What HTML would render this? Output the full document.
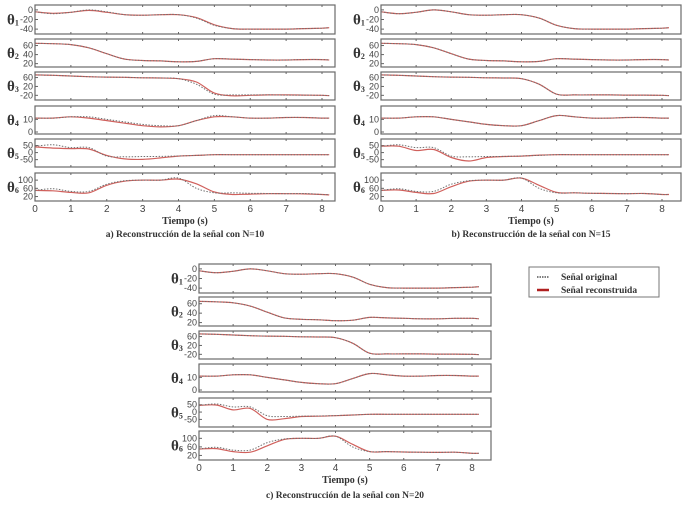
<!DOCTYPE html>
<html><head><meta charset="utf-8"><style>
body{margin:0;background:#fff;width:700px;height:511px;overflow:hidden}
svg{display:block;font-family:"Liberation Sans",sans-serif}
</style></head><body>
<svg id="fig" width="700" height="511" viewBox="0 0 700 511"></svg>
<script>
const times=[0,0.5,1,1.5,2,2.5,3,3.5,4,4.5,5,5.5,6,6.5,7,7.5,8,8.2];
const xTicks=[0,1,2,3,4,5,6,7,8];
const orig1=[-4,-8,-5,0,-4,-10,-11,-10,-10,-17,-32,-39,-40,-40,-40,-39,-38,-37];
const orig2=[65,64,62,55,42,30,27,26,24,25,31,30,29,28,28,29,29,28];
const orig3=[72,70,67,64,62,61,59,58,55,30,-15,-18,-18,-18,-19,-19,-20,-21];
const orig4=[11,11,12,12,10,8,6,5,5,9,13,12,11,11,11.5,11.5,11,11];
const orig5=[45,55,35,35,-25,-30,-28,-27,-24,-20,-15,-15,-15,-15,-15,-15,-15,-15];
const orig6=[50,58,45,45,80,97,100,100,110,60,38,38,36,35,34,35,30,30];
const rec10_1=[-4,-7,-5,-1,-5,-10,-11,-10,-10,-16,-31,-39,-40,-40,-40,-39,-38,-37];
const rec10_3=[72,70,67,64,62,61,59,58,55,40,-10,-22,-20,-18,-18,-19,-20,-21];
const rec10_4=[11,11,12,11,9,7,5,4,5,9,12,12,11,11,11.5,11.5,11,11];
const rec10_5=[40,32,28,25,-20,-45,-48,-38,-25,-20,-15,-15,-15,-15,-15,-15,-15,-15];
const rec10_6=[50,48,40,38,75,95,100,100,105,82,42,30,32,34,34,33,30,28];
const rec15_5=[45,45,15,22,-35,-60,-35,-28,-25,-18,-15,-15,-15,-15,-15,-15,-15,-15];
const rec15_6=[50,52,40,35,68,95,100,100,110,75,40,38,36,35,34,35,30,30];
const rec20_5=[45,48,15,25,-50,-45,-30,-28,-25,-20,-15,-15,-15,-15,-15,-15,-15,-15];
const rec20_6=[50,52,38,35,65,95,100,100,110,72,38,38,36,35,34,35,30,30];
const yRanges=[[-46,6],[17,70],[-32,76],[0,19],[-88,82],[8,125]];
const yTicks=[[0,-20,-40],[20,40,60],[60,20,-20],[10,0],[50,0,-50],[100,60,20]];
const origSet=[orig1,orig2,orig3,orig4,orig5,orig6];
const rec10=[rec10_1,orig2,rec10_3,rec10_4,rec10_5,rec10_6];
const rec15=[orig1,orig2,orig3,orig4,rec15_5,rec15_6];
const rec20=[orig1,orig2,orig3,orig4,rec20_5,rec20_6];
const captions=["a) Reconstrucción de la señal con N=10","b) Reconstrucción de la señal con N=15","c) Reconstrucción de la señal con N=20"];

const NS="http://www.w3.org/2000/svg";
const svg=document.getElementById('fig');
const SERIF='"Liberation Serif",serif';
function mk(tag,attrs,parent,txt){const e=document.createElementNS(NS,tag);for(const k in attrs)e.setAttribute(k,attrs[k]);if(txt!==undefined)e.textContent=txt;(parent||svg).appendChild(e);return e;}
function smooth(pts){let d='M'+pts[0][0].toFixed(1)+' '+pts[0][1].toFixed(1);
 for(let i=0;i<pts.length-1;i++){const p0=pts[i-1]||pts[i],p1=pts[i],p2=pts[i+1],p3=pts[i+2]||p2;
  const c1=[p1[0]+(p2[0]-p0[0])/6,p1[1]+(p2[1]-p0[1])/6],c2=[p2[0]-(p3[0]-p1[0])/6,p2[1]-(p3[1]-p1[1])/6];
  d+=` C${c1[0].toFixed(1)} ${c1[1].toFixed(1)} ${c2[0].toFixed(1)} ${c2[1].toFixed(1)} ${p2[0].toFixed(1)} ${p2[1].toFixed(1)}`;}
 return d;}
function panel(id,x0,x8,right,rowsY,recSet,labelY,caption){
 const g=mk('g',{});
 
 
 const sx=t=>x0+(x8-x0)*t/8;
 const left=x0;
 rowsY.forEach((r,i)=>{
  const [top,bot]=r;const [lo,hi]=yRanges[i];
  const sy=v=>bot-2-(bot-top-4)*(v-lo)/(hi-lo);
  const sg=mk('g',{},g);
  
  
  mk('rect',{x:left,y:top,width:right-left,height:bot-top,fill:'#fff',stroke:'#6a6a6a','stroke-width':1.2},sg);
  xTicks.forEach(t=>{mk('line',{x1:sx(t),x2:sx(t),y1:top,y2:top+2,stroke:'#666'},sg);mk('line',{x1:sx(t),x2:sx(t),y1:bot,y2:bot-2,stroke:'#666'},sg);});
  yTicks[i].forEach(v=>{const yy=sy(v);
   mk('line',{x1:left,x2:left+3,y1:yy,y2:yy,stroke:'#666'},sg);
   const tl=mk('text',{x:left-2,y:yy+3,'text-anchor':'end','font-size':9,fill:'#444'},sg,String(v));
   
   });
  const lab=mk('text',{x:left-28,y:(top+bot)/2+5,'font-size':15,'font-weight':'bold','font-family':SERIF,fill:'#333'},sg);
  
  
  lab.textContent='θ';
  mk('tspan',{'font-size':8,dy:1},lab,String(i+1));
  const rp=mk('path',{d:smooth(times.map((t,k)=>[sx(t),sy(recSet[i][k])])),fill:'none',stroke:'#d0605c','stroke-width':1.2},sg);
  
  
  const op=mk('path',{d:smooth(times.map((t,k)=>[sx(t),sy(origSet[i][k])])),fill:'none',stroke:'#707070','stroke-width':1,'stroke-dasharray':'1.5 1.5'},sg);
  
  
 });
 const lastBot=rowsY[5][1];
 xTicks.forEach(t=>{const tl=mk('text',{x:sx(t),y:lastBot+11,'text-anchor':'middle','font-size':10,fill:'#444'},g,String(t));
  
  });
 const xt=mk('text',{x:(left+right)/2,y:lastBot+23,'text-anchor':'middle','font-size':10,'font-weight':'bold','font-family':SERIF,fill:'#333'},g,'Tiempo (s)');
 
 
 const cp=mk('text',{x:(left+right)/2,y:labelY,'text-anchor':'middle','font-size':9.5,'font-weight':'bold','font-family':SERIF,fill:'#333'},g,caption);
 
 
}
const rowsTop=[[5,34],[39,67],[72,100],[106,134],[139,167],[173,201]];
const rowsC=[[264,293],[297,326],[331,359],[364,392],[398,427],[431,460]];
panel('a',35,322,335,rowsTop,rec10,237,captions[0]);
panel('b',381,662,681,rowsTop,rec15,237,captions[1]);
panel('c',199,472,491,rowsC,rec20,498,captions[2]);
const lg=mk('g',{});


mk('rect',{x:529,y:267,width:130,height:30,fill:'#fff',stroke:'#777'},lg);
mk('line',{x1:537,x2:549,y1:277,y2:277,stroke:'#555','stroke-width':1.5,'stroke-dasharray':'1.5 1'},lg);
mk('line',{x1:537,x2:549,y1:290,y2:290,stroke:'#b02020','stroke-width':2.5},lg);
const l1=mk('text',{x:561,y:280,'font-size':9.5,'font-weight':'bold','font-family':SERIF,fill:'#333'},lg,'Señal original');


const l2=mk('text',{x:561,y:293,'font-size':9.5,'font-weight':'bold','font-family':SERIF,fill:'#333'},lg,'Señal reconstruida');


</script>
</body></html>
